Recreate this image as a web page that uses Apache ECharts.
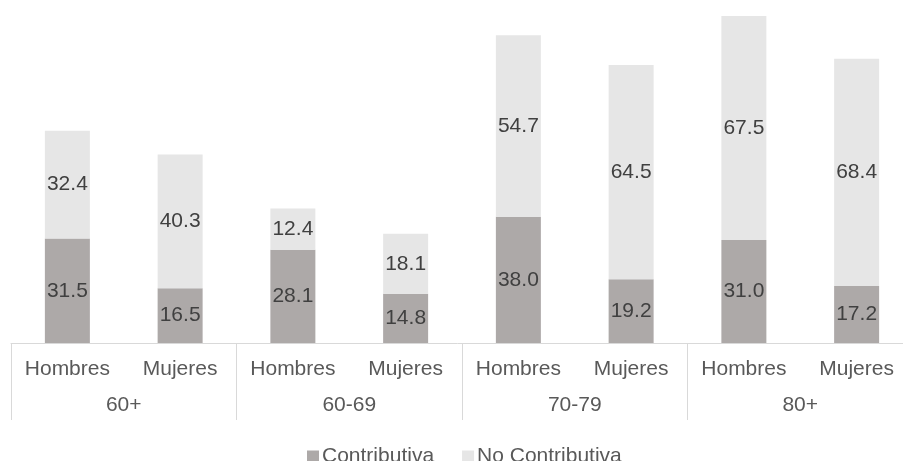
<!DOCTYPE html>
<html><head><meta charset="utf-8">
<script src="https://cdn.jsdelivr.net/npm/echarts@6/dist/echarts.min.js"></script>
<style>html,body{margin:0;padding:0;background:#fff}#c{width:903px;height:461px}</style>
</head><body><div id="c"></div>
<script>
var sexes = ['Hombres','Mujeres','Hombres','Mujeres','Hombres','Mujeres','Hombres','Mujeres'];
var groups = ['60+','60-69','70-79','80+'];
var contributiva = [31.5,16.5,28.1,14.8,38.0,19.2,31.0,17.2];
var noContributiva = [32.4,40.3,12.4,18.1,54.7,64.5,67.5,68.4];

var chart = echarts.init(document.getElementById('c'));
var font = 'Arial, "Liberation Sans", sans-serif';
var lbl = {show:true, position:'inside', color:'#404040', fontSize:21, fontFamily:font,
  formatter:function(p){return p.value.toFixed(1);}};
chart.setOption({
  animation:false,
  grid:{left:11, right:-10, top:11, bottom:118, containLabel:false, outerBoundsMode:'none'},
  legend:{top:441, left:302, icon:'rect', itemWidth:12, itemHeight:12, itemGap:28,
    textStyle:{fontSize:21, color:'#595959', fontFamily:font, padding:[0,0,0,-2]},
    data:['Contributiva','No Contributiva']},
  xAxis:[
    {type:'category', data:sexes, position:'bottom',
     axisLine:{show:true, lineStyle:{color:'#D9D9D9', width:1}},
     axisTick:{show:false},
     axisLabel:{interval:0, margin:16, fontSize:21, color:'#595959', fontFamily:font}},
    {type:'category', data:groups, position:'bottom',
     axisLine:{show:false},
     axisTick:{show:true, length:77, interval:0, lineStyle:{color:'#D9D9D9'}},
     axisLabel:{interval:0, margin:52, fontSize:21, color:'#595959', fontFamily:font}}
  ],
  yAxis:{type:'value', min:0, max:100, show:false, splitLine:{show:false}},
  series:[
    {name:'Contributiva', type:'bar', stack:'a', data:contributiva, barWidth:45,
     itemStyle:{color:'#ADA9A8'}, label:lbl},
    {name:'No Contributiva', type:'bar', stack:'a', data:noContributiva, barWidth:45,
     itemStyle:{color:'#E6E6E6'}, label:lbl}
  ]
});
</script></body></html>
